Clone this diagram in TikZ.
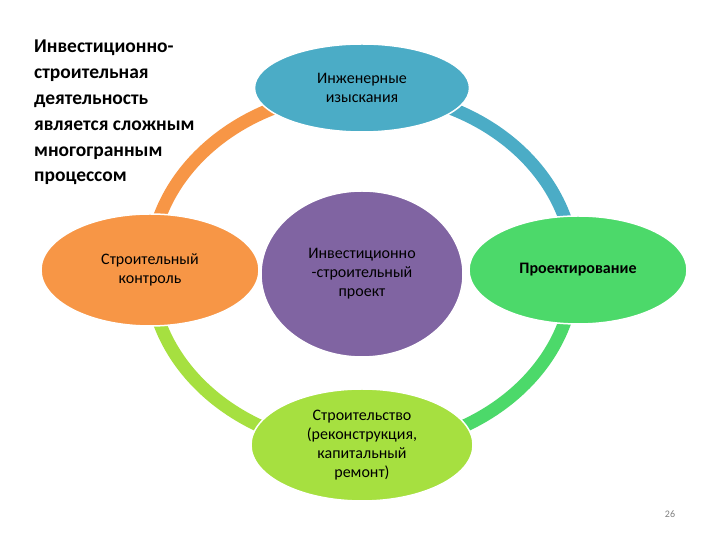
\documentclass[tikz,border=0pt]{standalone}
\usepackage{fontspec}
\setmainfont{Carlito}
\usetikzlibrary{shapes.geometric}
\definecolor{corange}{HTML}{F79646}
\definecolor{cblue}{HTML}{4BACC6}
\definecolor{cgreen}{HTML}{4CD96A}
\definecolor{clime}{HTML}{A6E040}
\definecolor{cpurple}{HTML}{8064A2}
\tikzset{
  ring/.style={line width=13pt},
  bub/.style={ellipse, draw=white, line width=1.5pt, align=center, font=\fontsize{16}{19}\selectfont, inner sep=0pt}
}
\begin{document}
\begin{tikzpicture}[x=1pt,y=1pt]
\useasboundingbox (0,0) rectangle (720,540);
\fill[white] (0,0) rectangle (720,540);
\foreach \c/\a/\b/\sx/\sy in {corange/180/90/150/270, cblue/90/0/362/448, cgreen/0/-90/574/270, clime/-90/-180/362/92}{
  \draw[white,line width=17pt] (\sx,\sy) arc (\a:\b:212 and 178);
  \draw[\c,ring] (\sx,\sy) arc (\a:\b:212 and 178);
}
\node[bub, fill=cblue, minimum width=215pt, minimum height=88pt] (top) at (362,452) {Инженерные\\изыскания};
\node[bub, fill=corange, minimum width=218pt, minimum height=112pt] (left) at (150,270) {Строительный\\контроль};
\node[bub, fill=cgreen, minimum width=218pt, minimum height=108pt] (right) at (578,270) {\textbf{Проектирование}};
\node[bub, fill=clime, minimum width=222pt, minimum height=112pt] (bot) at (362,95) {Строительство\\(реконструкция,\\капитальный\\ремонт)};
\node[bub, fill=cpurple, minimum width=202pt, minimum height=166pt] (mid) at (362,266) {Инвестиционно\\-строительный\\проект};
\node[anchor=north west, align=left, inner sep=0pt, font=\bfseries\fontsize{19.5}{25.8}\selectfont] (txt) at (34,500) {Инвестиционно-\\строительная\\деятельность\\является сложным\\многогранным\\процессом};
\node[font=\fontsize{10}{12}\selectfont, text=gray] (pg) at (670,26) {26};
\end{tikzpicture}
\end{document}
